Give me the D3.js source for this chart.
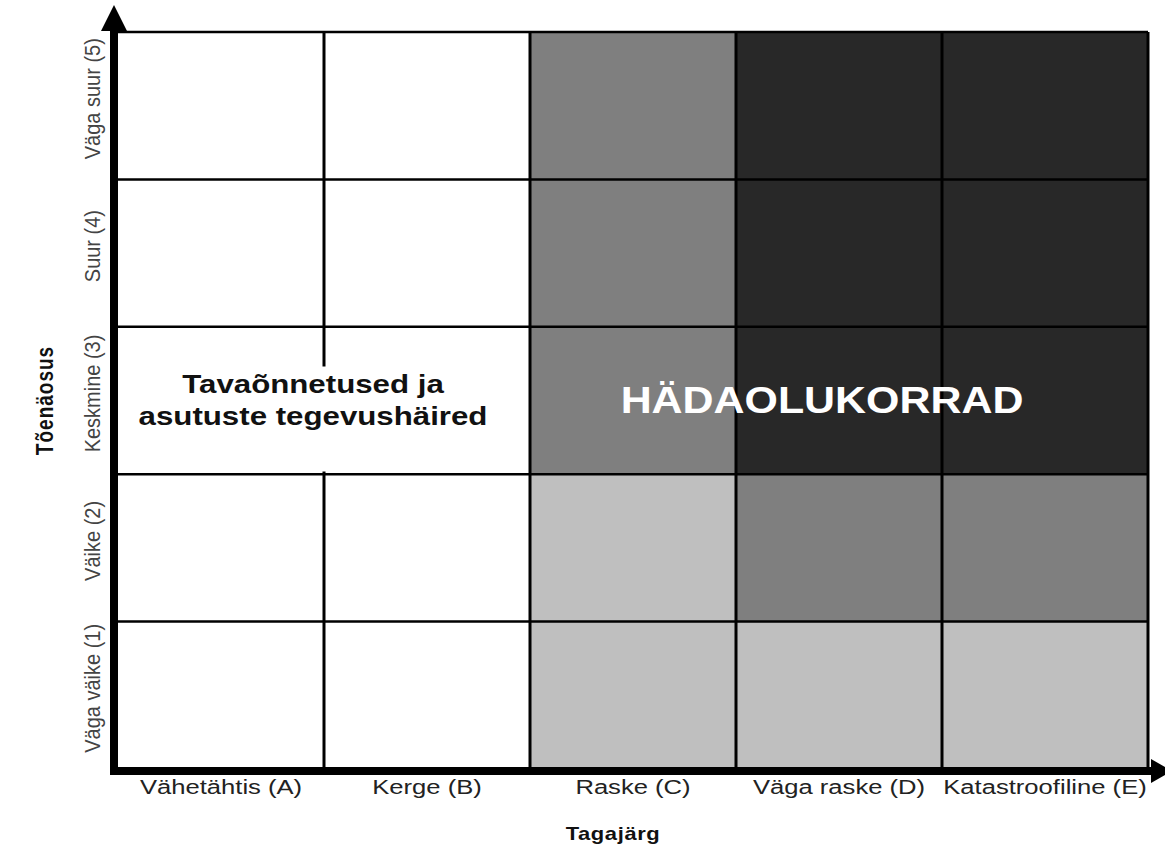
<!DOCTYPE html>
<html>
<head>
<meta charset="utf-8">
<script src="https://cdn.jsdelivr.net/npm/d3@7"></script>
<style>
  html, body { margin: 0; padding: 0; background: #fff; }
  svg { display: block; font-family: "Liberation Sans", Arial, sans-serif; }
</style>
</head>
<body>
<svg id="chart" width="1165" height="852"></svg>
<script>
// ---- data ----
const consequences = ["Vähetähtis (A)", "Kerge (B)", "Raske (C)", "Väga raske (D)", "Katastroofiline (E)"];
const likelihoods = ["Väga väike (1)", "Väike (2)", "Keskmine (3)", "Suur (4)", "Väga suur (5)"];
// risk level per likelihood row (bottom to top), per consequence column
const riskRow1 = [0, 0, 1, 1, 1];
const riskRow2 = [0, 0, 1, 2, 2];
const riskRow3 = [0, 0, 2, 3, 3];
const riskRow4 = [0, 0, 2, 3, 3];
const riskRow5 = [0, 0, 2, 3, 3];
const riskRows = [riskRow1, riskRow2, riskRow3, riskRow4, riskRow5];
const levelColors = ["#ffffff", "#bfbfbf", "#7f7f7f", "#282828"];
const xTitle = "Tagajärg";
const yTitle = "Tõenäosus";
const zoneLow = ["Tavaõnnetused ja", "asutuste tegevushäired"];
const zoneHigh = "HÄDAOLUKORRAD";

// ---- layout ----
const svg = d3.select("#chart");
const pLeft = 118, pRight = 1148, pTop = 32, pBottom = 769;
const stretch = 1.22;

const x = d3.scaleBand().domain(consequences).range([pLeft, pRight]);
const y = d3.scaleBand().domain(likelihoods).range([pBottom, pTop]);
const color = d3.scaleOrdinal().domain([0, 1, 2, 3]).range(levelColors);

const cells = [];
riskRows.forEach((row, i) => row.forEach((lvl, j) => cells.push({ c: consequences[j], l: likelihoods[i], lvl })));

svg.append("g").selectAll("rect").data(cells).join("rect")
  .attr("x", d => x(d.c)).attr("y", d => y(d.l))
  .attr("width", x.bandwidth()).attr("height", y.bandwidth())
  .attr("fill", d => color(d.lvl));

// grid lines
const g = svg.append("g").attr("stroke", "#000");
const vEdges = consequences.slice(1).map(c => x(c)).concat([pRight]);
g.selectAll("line.v").data(vEdges).join("line").attr("class", "v")
  .attr("x1", d => d).attr("x2", d => d).attr("y1", pTop).attr("y2", pBottom)
  .attr("stroke-width", 3);
const hEdges = likelihoods.slice(1).map(l => y(l) + y.bandwidth()).concat([pTop]);
g.selectAll("line.h").data(hEdges).join("line").attr("class", "h")
  .attr("x1", pLeft).attr("x2", pRight).attr("y1", d => d).attr("y2", d => d)
  .attr("stroke-width", 2.5);

// white box behind low zone text
const lowCx = x(consequences[1]) - 11;
const midY = y(likelihoods[2]) + y.bandwidth() / 2;
svg.append("rect")
  .attr("x", lowCx - 190).attr("y", midY - 34)
  .attr("width", 390).attr("height", 105)
  .attr("fill", "#fff");

// axes (thick arrows)
const axisX = 114, axisY = 771;
svg.append("line").attr("x1", axisX).attr("x2", axisX).attr("y1", 26).attr("y2", axisY + 4)
  .attr("stroke", "#000").attr("stroke-width", 8);
svg.append("path").attr("d", d3.line()([[axisX, 5], [axisX - 13, 31], [axisX + 13, 31]]) + "Z").attr("fill", "#000");
svg.append("line").attr("x1", axisX - 4).attr("x2", pRight + 4).attr("y1", axisY).attr("y2", axisY)
  .attr("stroke", "#000").attr("stroke-width", 8);
svg.append("path").attr("d", d3.line()([[pRight + 3, axisY - 12], [pRight + 24, axisY], [pRight + 3, axisY + 12]]) + "Z").attr("fill", "#000");

// x tick labels
svg.append("g").selectAll("g").data(consequences).join("g")
  .attr("transform", d => `translate(${x(d) + x.bandwidth() / 2},794) scale(${stretch},1)`)
  .append("text").attr("text-anchor", "middle").attr("font-size", 21).attr("fill", "#222")
  .text(d => d);

// y tick labels
svg.append("g").selectAll("g").data(likelihoods).join("g")
  .attr("transform", d => `translate(100,${y(d) + y.bandwidth() / 2 - 7}) scale(1.08,1) rotate(-90)`)
  .append("text").attr("text-anchor", "middle").attr("font-size", 20).attr("fill", "#444")
  .text(d => d);

// axis titles
svg.append("g").attr("transform", `translate(${(pLeft + pRight) / 2 - 20},840) scale(${stretch},1)`)
  .append("text").attr("text-anchor", "middle").attr("font-size", 18).attr("font-weight", "bold")
  .attr("letter-spacing", 0.5).attr("fill", "#111").text(xTitle);
svg.append("g").attr("transform", `translate(53,${(pTop + pBottom) / 2}) scale(${stretch},1) rotate(-90)`)
  .append("text").attr("text-anchor", "middle").attr("font-size", 19).attr("font-weight", "bold")
  .attr("letter-spacing", 1).attr("fill", "#111").text(yTitle);

// zone labels
const lowText = svg.append("g").attr("transform", `translate(${lowCx},${midY - 8}) scale(1.25,1)`)
  .append("text").attr("text-anchor", "middle").attr("font-size", 25).attr("font-weight", "bold").attr("fill", "#111");
lowText.selectAll("tspan").data(zoneLow).join("tspan")
  .attr("x", 0).attr("dy", (d, i) => i === 0 ? 0 : 33).text(d => d);

svg.append("g").attr("transform", `translate(${x(consequences[3]) + x.bandwidth() / 2 - 17},${midY + 12}) scale(1.16,1)`)
  .append("text").attr("text-anchor", "middle").attr("font-size", 37).attr("font-weight", "bold")
  .attr("fill", "#fff").text(zoneHigh);
</script>
</body>
</html>
